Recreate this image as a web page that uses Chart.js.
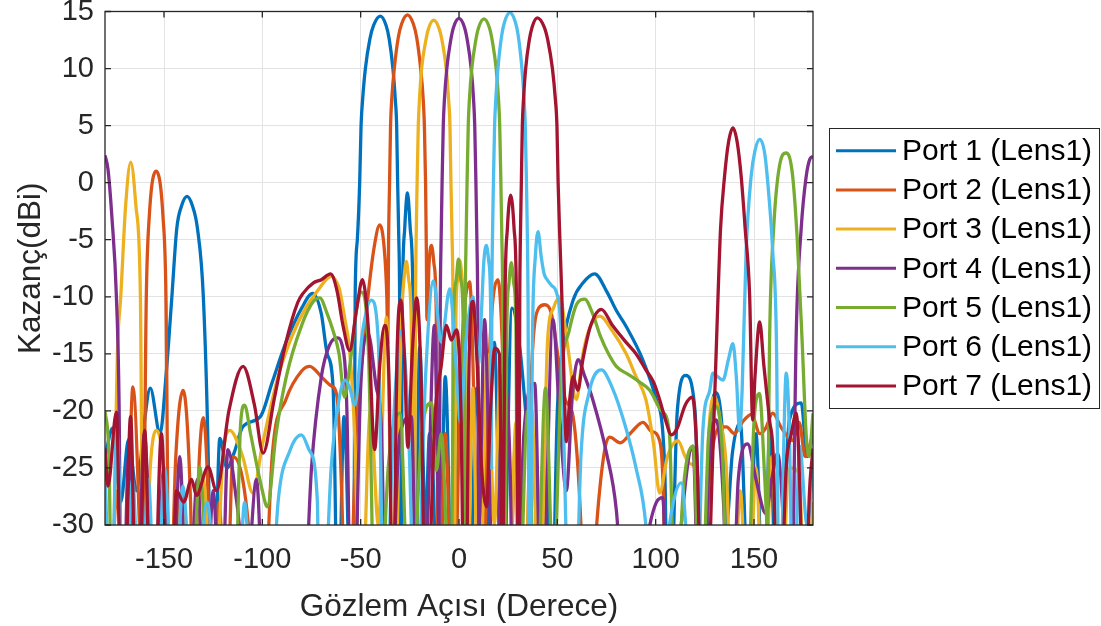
<!DOCTYPE html>
<html>
<head>
<meta charset="utf-8">
<script src="https://cdn.jsdelivr.net/npm/chart.js@4.4.1/dist/chart.umd.min.js"></script>
<style>
  html, body { margin: 0; padding: 0; background: #fff; }
  #wrap { width: 1101px; height: 626px; }
</style>
</head>
<body>
<div id="wrap"><canvas id="chart" width="1101" height="626"></canvas></div>
<script>
// ========================
// DATA
// each entry: [angle in degrees, gain in dBi]; values below -30 are clipped nulls
// ========================

const seriesLabels = [
  "Port 1 (Lens1)", "Port 2 (Lens1)", "Port 3 (Lens1)", "Port 4 (Lens1)",
  "Port 5 (Lens1)", "Port 6 (Lens1)", "Port 7 (Lens1)"
];
const seriesColors = ["#0072BD", "#D95319", "#EDB120", "#7E2F8E", "#77AC30", "#4DBEEE", "#A2142F"];

const xTicks = [-150, -100, -50, 0, 50, 100, 150];
const yTicks = [-30, -25, -20, -15, -10, -5, 0, 5, 10, 15];

const port1 = [[-180,-24],[-176,-21.5],[-172,-28],[-168,-22.5],[-164,-27],[-160,-21],[-157,-18],[-152,-22],[-149,-17],[-146,-10],[-143.5,-4],[-141,-2],[-138.3,-1.2],[-135.6,-2],[-133,-4],[-130,-10],[-127.5,-24],[-125.5,-45],[-121.6,-22.4],[-118,-25],[-114,-23.5],[-110,-21.4],[-101,-20.5],[-95,-17.5],[-88,-14],[-80,-11],[-74.4,-9.7],[-70,-11.5],[-67,-15],[-64,-18],[-61.5,-40],[-58.5,-20.5],
  [-53.8,-45],[-52.8,-10],[-51.7,-5],[-50.5,0],[-49.8,5],[-49,7.3],[-47.6,10],[-45.3,12.6],[-43.4,13.8],[-40,14.6],[-37.1,13.8],[-35.5,12.6],[-33.6,10],[-32.4,7.3],[-31.7,5],[-31.2,0],[-30.6,-5],[-30.2,-10],[-29.6,-40],[-28.9,-12],[-27.6,-4],[-26.2,-0.9],[-24.8,-4],[-23.4,-10],[-22.3,-40],
  [-20,-14.4],[-17,-30],[-15,-22],[-13,-26.6],[-10.5,-45],[-7,-17],[-3,-40],[1,-16],[5,-40],[9,-18],[13,-35],[18,-14],[22,-40],[27,-11],[31,-14.6],[35,-22],[38.5,-26.3],[41,-40],[44,-25],[47,-40],[50,-20],[52.8,-14.4],[58,-10.3],[63,-8.8],[69,-8],[75,-9.5],[80,-11.2],[85,-12.6],[93.4,-15.5],[100.3,-19],[104.6,-24.9],[106.5,-45],[111,-20],[115.3,-16.9],[120,-20],[124,-40],[128,-21],[130.8,-18.4],[134,-22],[136,-30],[139,-23.7],[143,-21],[147,-35],[151,-22],[155,-40],[158,-21.7],[162,-40],[168,-20.8],[174,-19.3],[177,-24],[180,-22]];

const port2 = [[-180,-30],[-178,-40],[-174,-27],[-170,-40],[-165.8,-17.9],[-162.5,-30],[-161,-40],[-159,-10],[-157.5,-3],[-154,1],[-150.5,-3],[-149,-10],[-147.3,-40],[-144,-24],[-140.3,-18.2],[-136.5,-28],[-135,-40],[-132,-24],[-130,-20.6],[-127.5,-28],[-126,-40],[-122,-28],[-118.5,-40],[-114.9,-24],[-110,-26],[-106,-32],[-101,-45],[-95,-24],[-88,-19],[-80,-16.5],[-75.9,-16.1],[-70,-17],[-65,-17.8],[-62.3,-18.5],[-59.5,-28],[-57.3,-45],[-52,-21],[-49,-15],[-46.3,-10],
  [-43,-5.5],[-40.3,-3.7],[-38,-5.8],[-36.7,-10],[-36.2,-14],[-35.8,-5],[-35.3,0],[-34.8,5],[-34.2,7.3],[-32.9,10],[-30.9,12.7],[-29.2,13.9],[-26.2,14.7],[-23.2,13.9],[-21.5,12.7],[-19.5,10],[-18.2,7.3],[-17.6,5],[-17,0],[-16.6,-6],[-16.3,-12],[-15.2,-7],[-14,-5.5],[-12.8,-7],[-11.6,-11],[-10.3,-40],
  [-7,-22],[-3,-40],[1,-16],[5.4,-8.7],[9,-29],[11.5,-40],[15.5,-15],[19.8,-8.5],[23,-20],[25,-40],[29,-22],[33,-40],[37,-16],[40.5,-11],[43.6,-10.7],[47,-11.5],[51,-16],[54,-19],[58,-20.5],[62,-30],[64.8,-45],[70,-30],[74,-23.5],[76.6,-22.3],[82,-22.8],[88,-21.8],[93.5,-21],[98,-21.8],[102,-22.6],[104,-28],[105.4,-45],[109,-30],[113,-40],[118,-31],[122,-40],[127.5,-25.5],[132,-21.5],[136,-21.4],[140,-22],[144,-21],[148.7,-20.3],[153,-22],[156,-21.5],[159.5,-20.2],[164,-21.5],[169.6,-22.6],[173,-21],[176,-24],[180,-22]];

const port3 = [[-180,-28],[-177,-40],[-173.5,-14],[-172,-10],[-169.5,-2],[-166.9,1.8],[-164.3,-2],[-162,-10],[-160.5,-40],[-157,-25],[-153.9,-21.7],[-150,-26],[-147,-40],[-141,-27],[-137,-40],[-130,-26],[-125,-40],[-120,-24],[-116.6,-21.7],[-110,-24],[-104.8,-27.2],[-100,-23],[-92,-17],[-85,-13.5],[-78,-11],[-72,-9.5],[-67,-8.4],[-64.9,-8.2],[-62,-8.8],[-60.7,-9.4],[-58,-12],[-55.6,-14.7],[-53,-22.3],[-50,-40],[-45,-20],[-41,-30],[-36.9,-11.8],[-33,-40],[-29.3,-12],[-28,-8.5],[-26.8,-6.9],[-25.6,-8.5],
  [-24.3,-12],[-22.8,-40],[-22.1,-10],[-21.8,-5],[-21.3,0],[-20.7,5],[-20.1,7.3],[-19,10],[-17.1,12.25],[-15.6,13.45],[-12.9,14.25],[-10,13.45],[-8.4,12.25],[-6.5,10],[-5.3,7.3],[-4.6,5],[-4.1,0],[-3.5,-5],[-3.1,-10],[-2.5,-40],[-1.6,-12],[-0.7,-8.5],[0.4,-6.8],[1.6,-8.5],[2.7,-12],[4,-40],
  [7,-18],[10,-40],[14.5,-15],[18,-30],[21,-16],[25,-40],[29,-21],[33,-40],[37,-20],[41,-40],[45,-14],[48,-11],[51.2,-10],[55,-14],[59.7,-19],[63,-15],[67,-12.5],[71.5,-11.7],[78,-13],[85,-15],[90,-17],[95,-19],[99,-23],[102,-27.2],[106,-24],[111.3,-22.6],[115,-24],[117.3,-24.6],[121.5,-25.8],[124,-40],[127,-22],[130,-18.8],[133,-21],[136,-25.2],[139,-40],[143,-27],[147,-40],[151,-25],[155,-40],[159,-24],[163,-40],[168,-25],[173,-25.5],[176,-40],[180,-28]];

const port4 = [[-180,2.4],[-178.5,1.2],[-176.5,-3],[-174.2,-10],[-172.8,-20],[-171.6,-45],[-168,-24],[-164,-40],[-160,-22],[-155,-40],[-150,-25],[-146,-40],[-142,-24],[-138,-40],[-133,-26],[-129,-40],[-125,-27],[-121,-40],[-117.5,-23.4],[-113,-28],[-108,-35],[-103,-26],[-99,-40],[-90,-45],[-81,-45],[-75,-25],[-70,-17],[-66,-14.3],[-62,-13.6],[-59.5,-14.2],[-57,-20],[-54.5,-45],[-50,-18],[-46.3,-13.2],[-42,-18],[-39.5,-21.4],[-36.5,-45],[-30,-22],[-24.2,-20.5],[-21,-45],[-16,-30],
  [-12.5,-12.5],[-10.1,-30],[-9.5,-10],[-9.1,-5],[-8.6,0],[-8,5],[-7.4,7.3],[-6.2,10],[-4.3,12.4],[-2.8,13.6],[0,14.4],[2.8,13.6],[4.3,12.4],[6.2,10],[7.4,7.3],[8,5],[8.6,0],[9.1,-5],[9.5,-10],[10.1,-30],[13,-12],
  [16,-30],[18.5,-45],[22.2,-16.9],[26,-25],[28,-45],[33,-22],[38.5,-17.6],[42,-40],[47.8,-12],[51,-20],[54.6,-27],[57.5,-19],[60.5,-15.5],[64,-17],[68,-19],[75,-23.7],[80,-28.7],[86.8,-45],[95,-32],[100.4,-28],[103.6,-27.6],[107,-45],[113,-30],[118.9,-23.1],[123,-45],[127,-25],[130.8,-20.8],[134.5,-28],[138,-45],[142,-26],[146.8,-22.9],[151,-26],[156,-29],[159,-26],[162,-23.7],[165,-30],[168.5,-45],[171.5,-13],[174,-4],[176.5,0.5],[178.5,2.1],[180,2.3]];

const port5 = [[-180,-20],[-178,-24],[-176,-45],[-170,-33],[-165,-45],[-159,-29.5],[-155,-45],[-148,-36],[-142,-45],[-136,-40],[-131.8,-24.9],[-127,-40],[-120,-45],[-115,-45],[-111,-21],[-109,-19.5],[-106,-22],[-100,-27],[-97.5,-28.4],[-93,-22],[-87.8,-17],[-80,-12.5],[-74,-10.4],[-70.8,-10.1],[-67,-11.5],[-64,-13],[-61,-15],[-58.2,-18.8],[-55.5,-16],[-52,-11],[-49.6,-9.6],[-46,-15],[-42,-45],[-36,-25],[-30.1,-20.2],[-25,-40],[-19,-22],[-14,-19.3],[-11.5,-25.2],[-9,-22],[-4,-40],[-2.8,-12],[-1.4,-8.5],[-0.3,-6.7],[0.9,-8.5],
  [2.1,-12],[2.6,-30],[3.2,-10],[3.6,-5],[4.1,0],[4.7,5],[5.3,7.3],[6.5,10],[8.4,12.35],[9.9,13.55],[12.7,14.35],[15.5,13.55],[17,12.35],[18.9,10],[20.1,7.3],[20.7,5],[21.3,0],[21.8,-5],[22.2,-10],[22.8,-40],
  [24.4,-12],[25.4,-8.8],[26.6,-7],[27.8,-8.8],[28.9,-12],[30,-40],[35,-20],[39,-40],[44,-18],[48,-35],[52,-17],[56,-13],[60,-10.6],[63.9,-10.2],[68,-11.5],[72,-13.5],[76,-15],[80,-16.1],[86,-16.8],[92,-17.5],[97,-18.2],[103,-20],[107,-22],[110,-40],[114,-27],[119,-23.1],[123,-40],[127,-22],[130.8,-19.6],[134,-24],[137,-40],[142,-30],[146,-40],[150,-21],[152.8,-18.5],[155.5,-26],[156.8,-30],[158,-13],[160,-4],[163,1.5],[166.4,2.6],[169.5,0.8],[172,-5],[174.5,-14],[176.6,-22.3],[178,-24],[180,-20.2]];

const port6 = [[-180,-25],[-177,-40],[-174,-21.7],[-170,-40],[-166,-26],[-162,-40],[-158,-26],[-154,-40],[-149.7,-25],[-145,-40],[-140.4,-26.6],[-135,-40],[-128,-28],[-122,-40],[-113,-40],[-109,-28],[-105,-40],[-98,-45],[-92,-28],[-86,-23.5],[-80.1,-22.1],[-76,-23.5],[-72,-28],[-70.8,-45],[-65,-25],[-61,-19],[-58,-17.3],[-55.5,-18],[-53,-19.5],[-49,-13],[-44.5,-10.3],[-41,-14],[-38,-40],[-33,-20],[-29.5,-13],[-26,-20],[-22,-40],[-17,-17],[-13,-8.6],[-9,-14],[-4.7,-9.3],[-1.5,-16],[0.8,-21],[3.5,-14],[7.1,-10],[9.8,-16],[11.5,-11],[12.6,-7],[13.9,-5.5],[15.2,-7],
  [16.1,-11],[16.4,-25],[16.7,-10],[17,-5],[17.5,0],[18.1,5],[18.7,7.3],[19.8,10],[21.7,12.9],[23.2,14.1],[25.9,14.9],[28.6,14.1],[30.1,12.9],[32,10],[33.1,7.3],[33.7,5],[34.3,0],[34.8,-5],[35.1,-10],[35.8,-40],
  [37.5,-12],[38.8,-6.5],[40.2,-4.3],[41.8,-6.5],[43.3,-8],[44.4,-8.4],[47,-9],[49.5,-9.6],[51.5,-12],[53,-20],[55,-35],[58,-45],[62,-24],[66,-18.5],[72.4,-16.4],[78,-18],[84,-21],[90,-25],[95,-30],[100.4,-45],[105,-33],[109,-28],[113,-26.3],[116,-32],[119.8,-45],[124,-21.7],[127.5,-18.2],[129.1,-16.7],[131.5,-17],[134.2,-17.3],[137,-15.5],[139.3,-14.1],[141,-17],[142.7,-21.7],[144,-18],[146,-6],[148.5,0.5],[150.5,2.8],[152.9,3.8],[155.5,2.5],[157.5,-1],[159.5,-6],[161.5,-15],[163,-45],[165,-24],[166.4,-16.7],[168,-22],[170,-40],[173.2,-23.1],[177,-30],[180,-25]];

const port7 = [[-180,-23.3],[-178.5,-26.6],[-174.2,-20.1],[-171,-45],[-167,-20.5],[-163.5,-45],[-159.8,-21.7],[-156,-45],[-151.3,-22],[-147,-45],[-143.7,-27],[-140,-28],[-136,-26],[-133.5,-27.4],[-127.6,-24.9],[-123.3,-27],[-117,-20],[-109.8,-16.1],[-104,-19.5],[-99.6,-23.7],[-94,-19],[-88,-14],[-82,-10.5],[-79.3,-9.7],[-74.2,-8.8],[-70,-8.5],[-65.3,-8],[-62,-9.5],[-59,-12.5],[-55.6,-14.7],[-52,-11],[-49.1,-8.5],[-46,-13],[-42.9,-23.4],[-40.3,-16],[-37.8,-12.5],[-35.5,-18],[-33.7,-40],[-31.5,-15],[-29.6,-10.3],[-27.8,-15],[-26,-23.2],[-23.8,-15],[-21.5,-10.1],[-19.2,-18],[-17,-40],[-12,-20],[-9,-16],[-6.4,-12.5],[-3.9,-13.8],[-1.3,-12.9],[1,-20],[3,-45],[5.2,-15],[7.1,-10.4],[9,-15],[11.5,-25],[14,-28.4],[16,-20],[18.2,-14.5],[20.5,-15],[22.3,-35],[23.4,-10],[24.6,-4],[26.3,-1.1],[28,-4],[29.2,-10],
  [30.3,-40],[30.9,-10],[31.2,-5],[31.7,0],[32.2,5],[32.8,7.3],[33.9,10],[35.7,12.45],[37.2,13.65],[39.8,14.45],[43.3,13.65],[45.2,12.45],[47.5,10],[49,7.3],[49.8,5],[50.4,0],[51.3,-5],[52.3,-10],
  [53.5,-18],[54.6,-22.7],[56.3,-19],[58,-17],[60.4,-18.2],[63,-15.5],[67,-12.5],[72.4,-11.1],[78,-12.5],[85,-14],[90,-15],[95,-16.4],[99,-17.5],[102,-19],[105,-20.8],[108,-22.1],[111,-21.5],[115,-19.5],[118.7,-18.8],[121,-24],[124.5,-45],[129,-24],[131.7,-10],[133,-4],[135,0.5],[137,3.5],[139.3,4.8],[141.5,3.5],[143.5,0.5],[145.5,-4],[147.8,-10],[149.3,-20.8],[150.5,-17],[152.9,-12.2],[155,-16],[157.9,-20.8],[160,-25],[162,-45],[166.4,-24.9],[169,-22],[171.5,-20.2],[173.5,-28],[175.7,-45],[178,-28],[180,-23.3]];

const seriesData = [port1, port2, port3, port4, port5, port6, port7];

// ========================
// CHART
// ========================

const fontFamily = '"Liberation Sans", Arial, Helvetica, sans-serif';
const axisColor = '#262626';

function toPoints(pairs) {
  return pairs.map(([a, g]) => ({ x: a, y: g }));
}

// axes box, inward tick marks and the boxed legend on the right
const matlabFrame = {
  id: 'matlabFrame',
  afterDatasetsDraw(chart) {
    const { ctx, chartArea: a, scales: { x, y } } = chart;
    ctx.save();
    ctx.strokeStyle = axisColor;
    ctx.lineWidth = 1.3;
    ctx.strokeRect(a.left, a.top, a.right - a.left, a.bottom - a.top);
    ctx.beginPath();
    xTicks.forEach(v => {
      const px = x.getPixelForValue(v);
      ctx.moveTo(px, a.bottom); ctx.lineTo(px, a.bottom - 6);
      ctx.moveTo(px, a.top); ctx.lineTo(px, a.top + 6);
    });
    yTicks.forEach(v => {
      const py = y.getPixelForValue(v);
      ctx.moveTo(a.left, py); ctx.lineTo(a.left + 6, py);
      ctx.moveTo(a.right, py); ctx.lineTo(a.right - 6, py);
    });
    ctx.stroke();
    ctx.restore();
  },
  afterDraw(chart) {
    const ctx = chart.ctx;
    ctx.save();
    ctx.fillStyle = '#fff';
    ctx.fillRect(829.5, 128.5, 270, 280);
    ctx.strokeStyle = axisColor;
    ctx.lineWidth = 1;
    ctx.strokeRect(829.5, 128.5, 270, 280);
    ctx.font = '30px ' + fontFamily;
    ctx.textBaseline = 'middle';
    ctx.textAlign = 'left';
    seriesLabels.forEach((label, i) => {
      const rowY = 150.7 + i * 39.2;
      ctx.strokeStyle = seriesColors[i];
      ctx.lineWidth = 3;
      ctx.beginPath();
      ctx.moveTo(836, rowY);
      ctx.lineTo(896, rowY);
      ctx.stroke();
      ctx.fillStyle = '#000';
      ctx.fillText(label, 902, rowY + 1);
    });
    ctx.restore();
  }
};

new Chart(document.getElementById('chart'), {
  type: 'line',
  data: {
    datasets: seriesLabels.map((label, i) => ({
      label,
      data: toPoints(seriesData[i]),
      borderColor: seriesColors[i],
      backgroundColor: seriesColors[i],
      borderWidth: 3.3,
      fill: false,
      order: seriesLabels.length - i   // later ports on top, like MATLAB
    }))
  },
  options: {
    responsive: false,
    animation: false,
    layout: { padding: { left: 0, right: 288, top: 11.5, bottom: 0 } },
    elements: {
      point: { radius: 0 },
      line: { cubicInterpolationMode: 'monotone' }
    },
    plugins: {
      legend: { display: false },
      tooltip: { enabled: false }
    },
    scales: {
      x: {
        type: 'linear',
        min: -180,
        max: 180,
        afterBuildTicks: s => { s.ticks = xTicks.map(v => ({ value: v })); },
        afterFit: s => { s.height = 101; s.paddingLeft = 0; s.paddingRight = 0; },
        grid: { color: '#e3e3e3', lineWidth: 1, drawTicks: false },
        border: { display: false },
        ticks: {
          font: { family: fontFamily, size: 29 },
          color: axisColor,
          padding: 18,
          maxRotation: 0,
          autoSkip: false
        },
        title: {
          display: true,
          text: 'Gözlem Açısı (Derece)',
          font: { family: fontFamily, size: 31.5, lineHeight: 1.2 },
          color: axisColor,
          padding: { top: 0, bottom: 0 }
        }
      },
      y: {
        type: 'linear',
        min: -30,
        max: 15,
        afterBuildTicks: s => { s.ticks = yTicks.map(v => ({ value: v })); },
        afterFit: s => { s.width = 105; s.paddingTop = 0; s.paddingBottom = 0; },
        grid: { color: '#e3e3e3', lineWidth: 1, drawTicks: false },
        border: { display: false },
        ticks: {
          font: { family: fontFamily, size: 29 },
          color: axisColor,
          padding: 11
        },
        title: {
          display: true,
          text: 'Kazanç(dBi)',
          font: { family: fontFamily, size: 31.5, lineHeight: 1.2 },
          color: axisColor,
          padding: { top: 12, bottom: 0 }
        }
      }
    }
  },
  plugins: [matlabFrame]
});
</script>
</body>
</html>
